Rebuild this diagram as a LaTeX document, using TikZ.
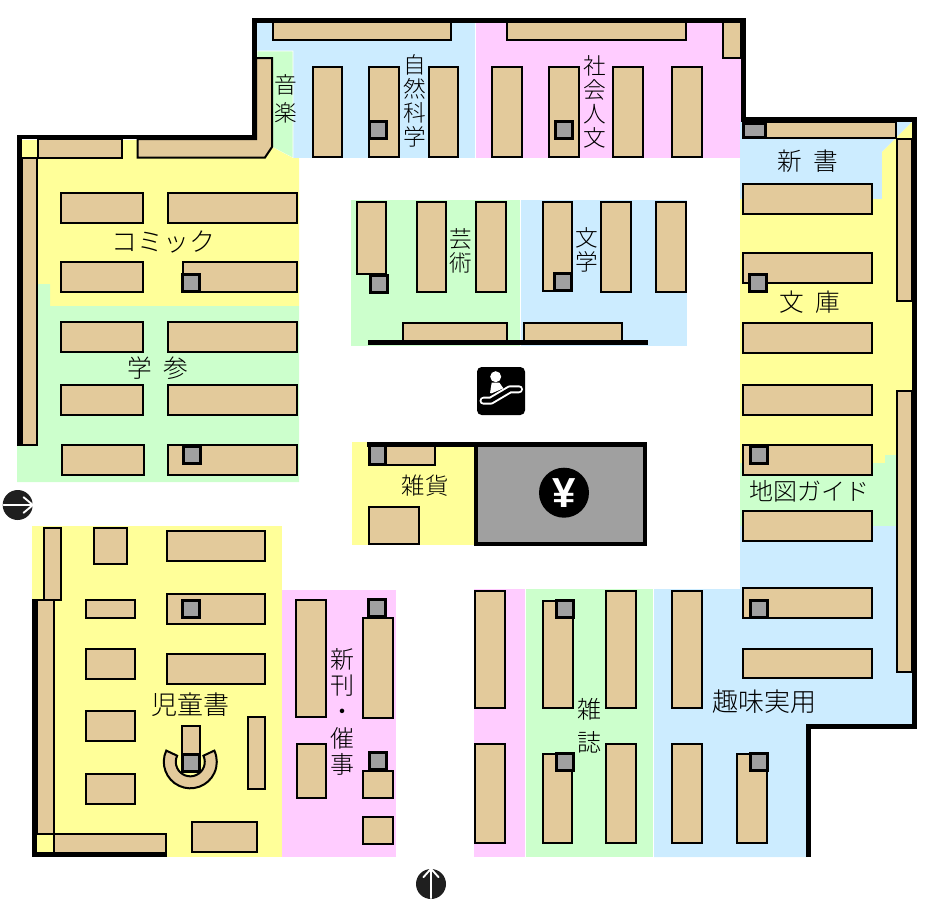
\documentclass[tikz,border=0pt]{standalone}
\usepackage{fontspec}
\usetikzlibrary{positioning}
\newfontfamily\jpfont[UprightFont=* Light]{Noto Sans CJK JP}
\newfontfamily\yenfont{Liberation Sans}
\definecolor{zoneyellow}{HTML}{FFFF99}
\definecolor{zonegreen}{HTML}{CCFFCC}
\definecolor{zoneblue}{HTML}{CCECFF}
\definecolor{zonepink}{HTML}{FFCCFF}
\definecolor{shelftan}{HTML}{E3CA9B}
\definecolor{postgray}{HTML}{A0A0A0}
\tikzset{%
	shelf/.style={
		draw=black,
		fill=shelftan,
		line width=1.5pt,
		line join=miter
	},
	post/.style={
		rectangle,
		draw=black,
		fill=postgray,
		line width=2.25pt,
		inner sep=0pt,
		minimum size=12.75pt
	},
	wall/.style={
		draw=black,
		line width=3.4pt,
		line join=miter
	},
	sign/.style={
		circle,
		fill=black!88,
		inner sep=0pt,
		minimum size=22.5pt
	},
	signarrow/.style={
		draw=white,
		line width=1.4pt,
		line join=round,
		line cap=round,
		shorten >=0.8pt,
		shorten <=0.8pt
	},
	genre/.style={
		font=\jpfont\fontsize{#1}{#1}\selectfont,
		align=center,
		inner sep=0pt
	},
}
\begin{document}
\begin{tikzpicture}[x=0.75pt,y=-0.75pt]
	\useasboundingbox (0,0) rectangle (950,910);
	% Zones
	\fill[zoneblue] (257,23) rectangle (475,158);
	\fill[zonepink] (476,23) rectangle (741,158);
	\filldraw[fill=zonegreen,draw=white,line width=0.4pt] (257,51) -- (293,51) -- (293,158) -- (272,147) -- (257,147) -- cycle;
	\fill[zoneyellow] (20,140) -- (272,140) -- (272,147) -- (293,158) -- (299,158) -- (299,306)
		-- (50,306) -- (50,284) -- (20,284) -- cycle;
	\fill[zonegreen] (17,284) -- (50,284) -- (50,306) -- (299,306) -- (299,482) -- (17,482) -- cycle;
	\fill[zonegreen] (351,200) rectangle (520,346);
	\fill[zoneblue] (521,200) rectangle (687,346);
	\fill[zoneyellow] (352,442) rectangle (475,545);
	\fill[zoneblue] (740,122) -- (912,122) -- (882,152) -- (882,199) -- (740,199) -- cycle;
	\fill[zoneyellow] (740,199) -- (882,199) -- (882,152) -- (912,122) -- (912,455) -- (885,455)
		-- (885,463) -- (740,463) -- cycle;
	\fill[zonegreen] (740,463) -- (885,463) -- (885,455) -- (897,455) -- (897,526) -- (740,526) -- cycle;
	\fill[zoneblue] (740,526) -- (912,526) -- (912,726) -- (808,726) -- (808,857) -- (654,857)
		-- (654,589) -- (740,589) -- cycle;
	\fill[zonegreen] (526,589) rectangle (653,857);
	\fill[zonepink] (474,589) rectangle (525,857);
	\fill[zonepink] (282,590) rectangle (396,857);
	\fill[zoneyellow] (32,526) rectangle (282,857);
	% Shelves
	\foreach \xa/\ya/\xb/\yb in {
		272.5/22/451/40, 507/22/686/40, 723/22/741/57.5,
		312.5/67/342/157, 369/67/398.5/157, 428.5/67/458/157,
		492/67/522/157, 549/67/579/157, 613/67/643/157, 672/67/702/157,
		37.5/139/122/157.5, 22/157.5/36.5/445,
		61/193/143/223, 167.5/193/297/223, 61/262/143/292, 182.5/262/297/292,
		61/322/143/352, 167.5/322/297/352, 61/385/143/415, 167.5/385/297/415,
		62/445/144/475, 167.5/445/297/475,
		356.5/202/386/274, 416.5/202/446/292, 476/202/506/292,
		542.5/202/572/291, 601/202/631/292, 656/202/686/292,
		402.5/323/507/341, 524/323/622/341,
		386/443/435/465, 369/507/419/543.5,
		766/122/896/138, 897/139/912/300.5, 897/391/912/671.5,
		742.5/184/872/213.5, 742.5/253/872/283, 742.5/323/872/352.5,
		742.5/385/872/415, 742.5/445/872/475, 742.5/511/872/541,
		742.5/588/872/618, 742.5/648.5/872/678,
		44/528/61/600, 93.5/528/127/563.5, 167/531/265/560.5,
		37/600/53.5/834, 54/834/166/852.5,
		86/600/135/617.5, 86/649/135/678.5, 86/711/135/740.5, 86/774/135/803.5,
		167/594/265/623.5, 167/654/265/683.5,
		247.5/717/265/788.5, 192/822/257/851.5,
		296/600/326/717, 363/618/393/718, 297/744/326/798,
		363/771/393/798, 363/817/393/844,
		475/591/505/708, 475/744/505/843, 543/601/573/708, 542.5/754/572/843,
		606/591/636/708, 606/744/636/843, 672/591/702/708, 672/744/702/843,
		737/754/767/843
	}
	{
		\draw[shelf] (\xa,\ya) rectangle (\xb,\yb);
	}
	% Corner shelf under the music sign
	\draw[shelf] (256,58) -- (272,58) -- (272,147) -- (265,157.5) -- (137.5,157.5) -- (137.5,139) -- (256,139) -- cycle;
	% Horseshoe and the shelf in it
	\draw[shelf] (190.3,761.8) ++(205:26.5) arc[start angle=205,end angle=-25,radius=26.5]
		-- ++(-10.9,5.1) arc[start angle=-25,end angle=205,radius=14.5] -- cycle;
	\draw[shelf] (182,726) rectangle (200,771);
	% Pillars
	\foreach \i/\x/\y in {
		1/378/129.7, 2/564/130.3, 3/191.3/283, 4/379.2/284, 5/563/281.8, 6/757.8/283,
		7/192/454.5, 8/759/454.5, 9/191/608.7, 10/377/607.8, 11/378/760.7, 12/191/762.5,
		13/565/609.3, 14/565/762, 15/759/609, 16/759/762
	}
	{
		\node[post] (Post-\i) at (\x,\y) {};
	}
	\node[post,minimum width=16.5pt,minimum height=11pt] (Post-17) at (754,130.5) {};
	\node[post,minimum width=12pt,minimum height=15pt] (Post-18) at (377,454) {};
	% Walls
	\draw[wall] (19.3,445.7) -- (19.3,137.2) -- (254.5,137.2) -- (254.5,20.5) -- (743.3,20.5) -- (743.3,119.7)
		-- (914.3,119.7) -- (914.3,726.7) -- (808.5,726.7) -- (808.5,857);
	\draw[wall] (34.7,599) -- (34.7,854.5) -- (166.7,854.5);
	\draw[wall,line width=4pt] (368,342.8) -- (648,342.8);
	\draw[wall] (367,444.3) -- (476,444.3);
	% Cash corner
	\draw[wall,fill=postgray] (476,444.3) rectangle (645,544);
	\node[circle,fill=black,inner sep=0pt,minimum size=37.5pt] (Cash) at (564,492.7) {};
	\node[text=white,font=\yenfont\bfseries\fontsize{31.5}{31.5}\selectfont,inner sep=0pt] (Yen) at (Cash) {¥};
	% Escalator
	\node[rectangle,rounded corners=3.5pt,fill=black,inner sep=0pt,minimum size=36pt] (Escalator) at (501,391) {};
	\draw[white,line width=6pt,line cap=round,line join=round] (483.5,400.7) -- (490.7,400.7) -- (510,389.3) -- (519,389.3);
	\draw[black,line width=3pt,line cap=round,line join=round] (483.5,400.7) -- (490.7,400.7) -- (510,389.3) -- (519,389.3);
	\fill[white] (495.7,376.7) circle (5.5);
	\fill[white] (491.7,382.7) -- (499.3,382.5) -- (503.3,388.3) -- (491.7,393.3) -- (490,393) -- cycle;
	% Entrances
	\node[sign] (Enter-1) at (17.7,505) {};
	\node[sign] (Enter-2) at (431,884) {};
	\draw[signarrow] (Enter-1.west) -- (Enter-1.east);
	\draw[signarrow] (22.7,496.5) -- (Enter-1.east) -- (22.7,513.5);
	\draw[signarrow] (Enter-2.south) -- (Enter-2.north);
	\draw[signarrow] (422.7,878) -- (Enter-2.north) -- (439.3,878);
	% Labels
	\node[genre=17] (Music) at (285.7,98.7) {音\\[3.5pt]楽};
	\node[genre=17] (Science) at (414.5,100.8) {自\\[1.2pt]然\\[1.2pt]科\\[1.2pt]学};
	\node[genre=17] (Society) at (595,101.8) {社\\[1.2pt]会\\[1.2pt]人\\[1.2pt]文};
	\node[genre=19.5] (Comic) at (163,241.7) {コミック};
	\node[genre=17] (Arts) at (461,251) {芸\\[1.2pt]術};
	\node[genre=17] (Literature) at (587.3,249.7) {文\\[1.2pt]学};
	\node[genre=18.5] (Shinsho) at (807.8,161) {新\hspace{0.45em}書};
	\node[genre=18.5] (Bunko) at (810,302.5) {文\hspace{0.45em}庫};
	\node[genre=18.5] (Study) at (158,367.7) {学\hspace{0.45em}参};
	\node[genre=17.5] (Goods) at (425,486) {雑貨};
	\node[genre=18] (Maps) at (809,491.7) {地図ガイド};
	\node[genre=19.5] (Children) at (190.3,705) {児童書};
	\node[genre=18] (New) at (342.7,711.7) {新\\[1.7pt]刊\\[1.7pt]・\\[1.7pt]催\\[1.7pt]事};
	\node[genre=18] (Magazine) at (589,725.5) {雑\\[6.7pt]誌};
	\node[genre=19.5] (Hobby) at (764,701.7) {趣味実用};
\end{tikzpicture}
\end{document}
